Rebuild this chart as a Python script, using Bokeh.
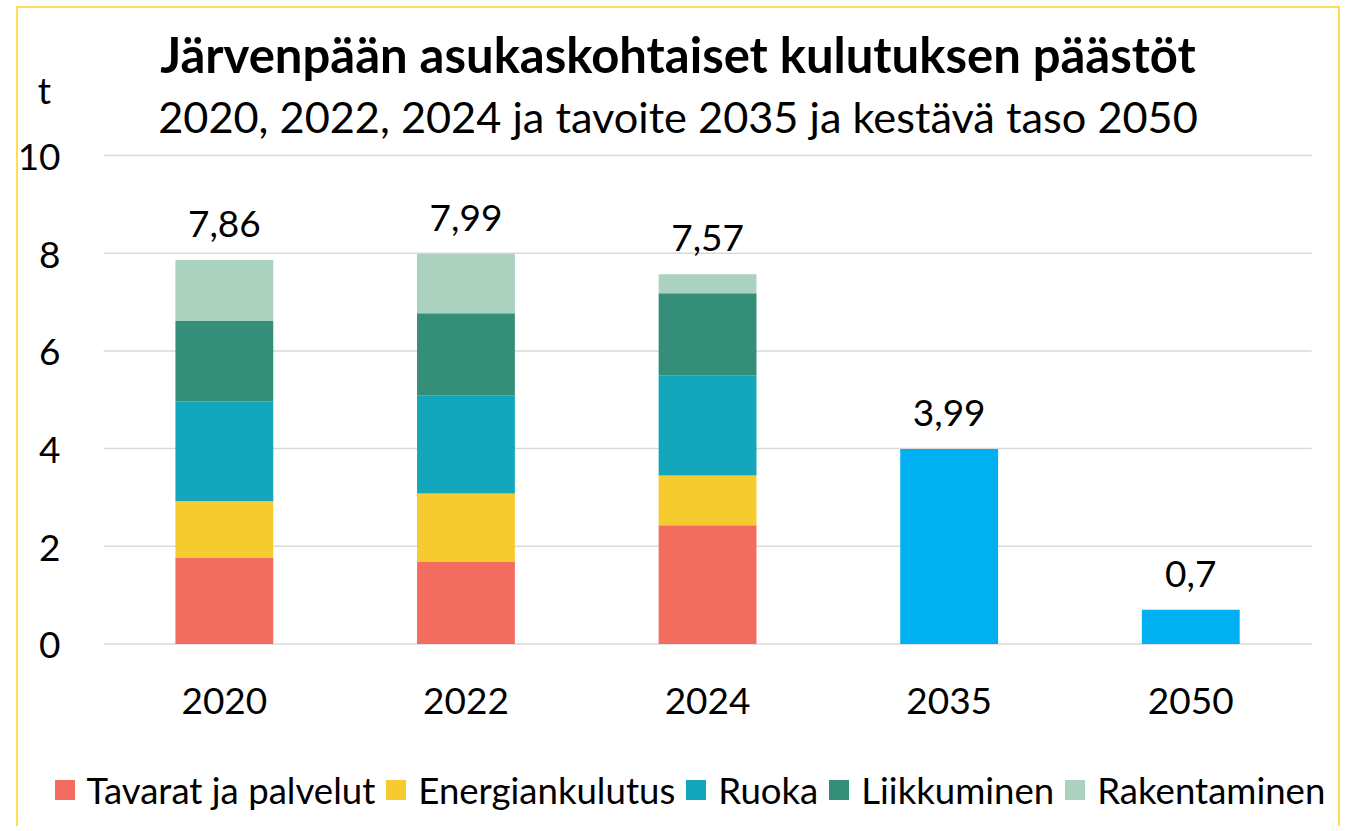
from bokeh.plotting import figure
from bokeh.models import ColumnDataSource, Range1d, FixedTicker, Label, Legend, LegendItem
from bokeh.core.properties import value
from bokeh.embed import file_html
from bokeh.resources import INLINE

# ---- data ----
categories = ["2020", "2022", "2024", "2035", "2050"]
series_names = ["Tavarat ja palvelut", "Energiankulutus", "Ruoka", "Liikkuminen", "Rakentaminen"]
tavarat = [1.77, 1.69, 2.43, 0, 0]
energia = [1.15, 1.39, 1.02, 0, 0]
ruoka = [2.05, 2.01, 2.05, 0, 0]
liikkuminen = [1.64, 1.68, 1.68, 0, 0]
rakentaminen = [1.25, 1.22, 0.39, 0, 0]
tavoite = [0, 0, 0, 3.99, 0.7]
total_labels = ["7,86", "7,99", "7,57", "3,99", "0,7"]
y_ticks = [0, 2, 4, 6, 8, 10]

title_text = "Järvenpään asukaskohtaiset kulutuksen päästöt"
subtitle_text = "2020, 2022, 2024 ja tavoite 2035 ja kestävä taso 2050"
y_unit = "t"

# ---- styles / layout ----
colors = ["#F26C60", "#F6CB2F", "#14A7BC", "#358F78", "#ABD1BF"]
target_color = "#00B0F0"
FONT = "Lato"
BAR_W = 0.405
W, H = 1324, 820
# the frame covers the whole canvas; category slots span x = 0..5, values 0..10
X_RANGE = (-0.352, 5.128)
Y_RANGE = (-3.777, 13.009)
UNIT_POS = 11.35    # where the unit label "t" sits on the y axis

n = len(categories)
xpos = [i + 0.5 for i in range(n)]
keys = ["s0", "s1", "s2", "s3", "s4"]
series = [tavarat, energia, ruoka, liikkuminen, rakentaminen]
data = {"x": xpos, "tavoite": tavoite}
for k, s in zip(keys, series):
    data[k] = s
src = ColumnDataSource(data)
totals = [sum(vals) for vals in zip(*series, tavoite)]

border = "2px solid #FFDD55"
p = figure(x_range=Range1d(*X_RANGE), y_range=Range1d(*Y_RANGE),
           width=W, height=H, output_backend="svg", toolbar_location=None,
           min_border=0, margin=(6, 0, 0, 16))
p.styles = {"border-top": border, "border-left": border, "border-right": border}
p.outline_line_color = None
p.background_fill_color = "white"
p.xgrid.visible = False
p.ygrid.visible = False

# horizontal gridlines across the category slots
p.segment(x0=0, x1=n, y0=y_ticks, y1=y_ticks, line_color="#D9D9D9", line_width=1.5)

rs = p.vbar_stack(keys, x="x", width=BAR_W, fill_color=colors, line_color=None, source=src)
p.vbar(x="x", top="tavoite", width=BAR_W, fill_color=target_color, line_color=None, source=src)

p.text(x=xpos, y=totals, text=total_labels, text_align="center", text_baseline="alphabetic",
       y_offset=-36, text_font=value(FONT), text_font_size="37px", text_color="black")

# axes, pinned inside the frame
p.yaxis.fixed_location = 0
p.yaxis.ticker = FixedTicker(ticks=y_ticks + [UNIT_POS])
p.yaxis.major_label_overrides = {UNIT_POS: y_unit + "\u00a0"}
p.yaxis.axis_line_color = None
p.yaxis.major_tick_line_color = None
p.yaxis.minor_tick_line_color = None
p.yaxis.major_tick_in = 0
p.yaxis.major_tick_out = 0
p.yaxis.major_label_standoff = 43
p.yaxis.major_label_text_font = FONT
p.yaxis.major_label_text_font_size = "37px"
p.yaxis.major_label_text_color = "black"

p.xaxis.fixed_location = 0
p.xaxis.ticker = FixedTicker(ticks=xpos)
p.xaxis.major_label_overrides = {x: c for x, c in zip(xpos, categories)}
p.xaxis.axis_line_color = None
p.xaxis.major_tick_line_color = None
p.xaxis.minor_tick_line_color = None
p.xaxis.major_tick_in = 0
p.xaxis.major_tick_out = 0
p.xaxis.major_label_standoff = 44
p.xaxis.major_label_text_font = FONT
p.xaxis.major_label_text_font_size = "37px"
p.xaxis.major_label_text_color = "black"

# titles
p.add_layout(Label(x=659.5, y=775, x_units="screen", y_units="screen", text=title_text,
                   text_align="center", text_baseline="alphabetic", text_font=FONT,
                   text_font_size="49px", text_font_style="bold", text_color="black"))
p.add_layout(Label(x=659.5, y=713, x_units="screen", y_units="screen", text=subtitle_text,
                   text_align="center", text_baseline="alphabetic", text_font=FONT,
                   text_font_size="43.3px", text_color="black"))

# legend
items = [LegendItem(label=nm, renderers=[r]) for nm, r in zip(series_names, rs)]
legend = Legend(items=items, orientation="horizontal", location=(33.5, 16.5),
                glyph_width=25, glyph_height=25, label_standoff=10, spacing=8,
                padding=0, margin=0, border_line_color=None, background_fill_alpha=0,
                label_text_font=FONT, label_text_font_size="36.6px", label_text_color="black")
p.add_layout(legend)

open("out.html", "w").write(file_html(p, INLINE))
